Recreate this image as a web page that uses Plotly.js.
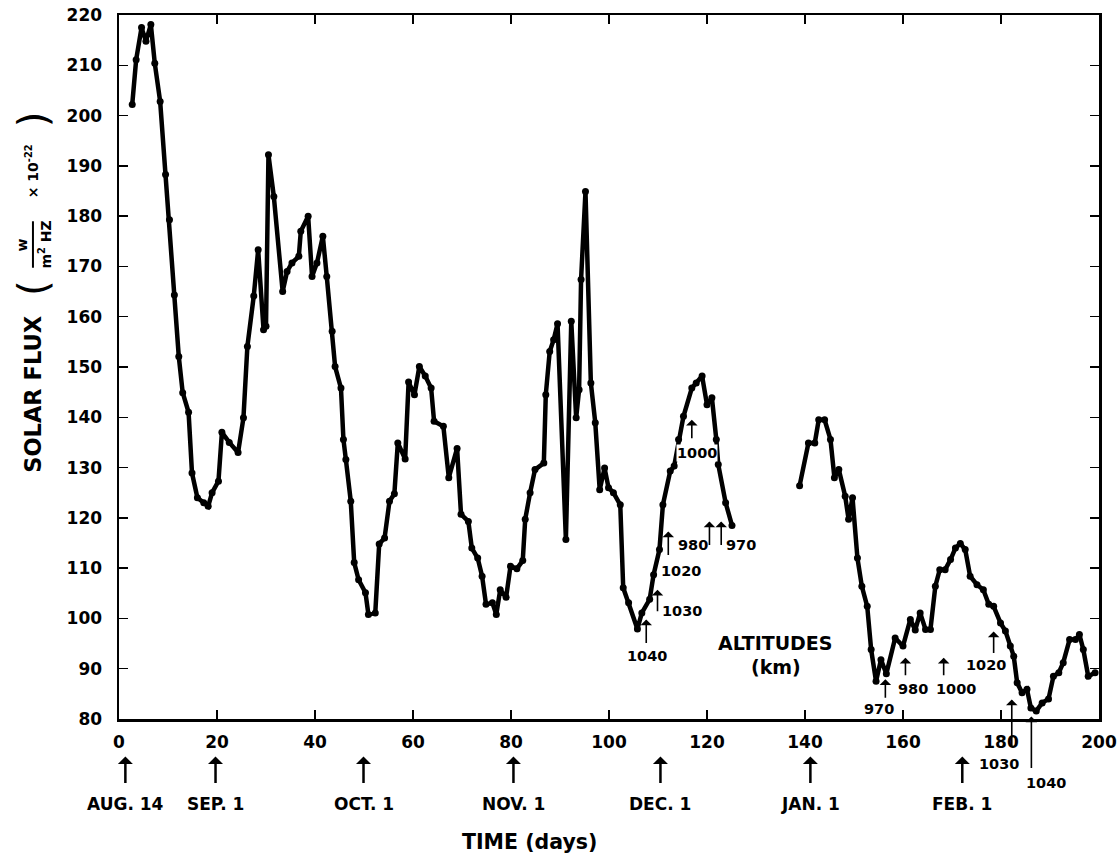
<!DOCTYPE html>
<html>
<head>
<meta charset="utf-8">
<script src="https://cdn.plot.ly/plotly-3.0.1.min.js"></script>
<style>html,body{margin:0;padding:0;background:#fff;}#chart{width:1119px;height:858px;}</style>
</head>
<body>
<div id="chart"></div>
<script>
// ---- data ----
var days1 = [2.7,3.5,4.6,5.5,6.5,7.3,8.4,9.5,10.3,11.3,12.2,13.0,14.2,14.9,16.0,17.3,18.2,19.0,20.3,21.0,22.5,24.3,25.4,26.2,27.5,28.4,29.5,30.0,30.5,31.6,33.4,34.3,35.3,36.7,37.1,38.6,39.4,40.4,41.6,42.4,43.5,44.1,45.3,45.8,46.3,47.3,48.0,48.9,50.3,50.9,52.3,53.1,54.2,55.2,56.2,56.9,58.4,59.1,60.3,61.3,62.5,63.7,64.3,66.2,67.3,69.0,69.8,71.3,72.0,73.2,74.1,74.9,76.2,77.0,77.8,79.0,79.9,81.2,82.4,82.9,83.9,84.9,86.7,87.1,87.9,88.7,89.5,91.2,92.3,93.3,93.9,94.3,95.2,96.3,97.2,98.1,99.1,99.9,100.9,102.3,102.9,104.0,105.8,106.7,108.3,109.1,110.3,111.0,112.5,113.3,114.2,115.2,116.9,117.8,119.0,120.0,121.0,121.9,122.3,123.8,125.1];
var flux1 = [202.2,211.1,217.5,214.8,218.1,210.4,202.8,188.3,179.3,164.3,152.1,144.9,141.0,128.9,124.0,123.0,122.3,125.0,127.3,137.0,135.0,133.0,139.9,154.1,164.1,173.3,157.4,158.1,192.2,183.9,165.0,169.0,170.7,172.0,177.0,180.0,168.0,170.7,176.0,168.0,157.1,150.1,145.8,135.6,131.6,123.3,111.1,107.7,105.1,100.8,101.1,114.8,116.0,123.3,124.8,134.9,131.7,147.0,144.5,150.1,148.2,145.8,139.2,138.2,128.0,133.8,120.7,119.3,114.0,112.0,108.4,102.8,103.1,100.8,105.7,104.2,110.4,109.9,111.5,119.7,125.0,129.6,130.9,144.5,153.1,155.4,158.6,115.7,159.1,139.9,145.5,167.4,184.9,146.8,138.9,125.6,129.9,126.0,125.0,122.6,106.1,103.1,97.9,101.1,103.8,108.7,113.7,122.6,129.3,130.3,135.6,140.2,145.8,146.8,148.2,142.5,143.9,135.6,130.6,123.0,118.5];
var days2 = [138.9,140.7,142.0,142.8,144.0,145.2,146.0,146.9,148.2,148.9,149.7,150.7,151.6,152.7,153.5,154.5,155.5,156.6,158.4,160.0,161.5,162.5,163.5,164.6,165.6,166.6,167.5,168.6,169.7,170.7,171.7,172.7,173.7,175.1,176.4,177.5,178.5,179.9,180.9,181.9,182.6,183.3,184.3,185.3,186.1,187.2,188.4,189.7,190.7,191.8,192.7,194.0,195.2,196.0,196.8,197.8,199.2];
var flux2 = [126.4,134.9,134.9,139.5,139.5,135.6,128.0,129.6,124.3,119.7,124.0,112.0,106.4,102.4,93.8,87.5,91.8,89.0,96.1,94.5,99.8,97.7,101.1,97.8,97.8,106.4,109.7,109.7,111.7,114.0,114.9,113.7,108.4,106.7,105.7,102.8,102.4,99.1,97.5,94.5,92.5,87.2,85.2,85.9,82.2,81.6,83.2,84.0,88.5,89.2,91.2,95.8,95.8,96.8,93.8,88.5,89.2];

var dateLabels = ['AUG. 14','SEP. 1','OCT. 1','NOV. 1','DEC. 1','JAN. 1','FEB. 1'];
var dateDays = [1.3, 19.7, 49.9, 80.5, 110.5, 141.1, 172.1];

var xTicks = [0,20,40,60,80,100,120,140,160,180,200];
var yTicks = [80,90,100,110,120,130,140,150,160,170,180,190,200,210,220];

// altitude markers: arrow heads (day, flux) and labels
var altArrowDays = [107.6,109.9,112.1,116.9,120.5,122.9,156.4,160.5,168.3,178.5];
var altArrowFlux = [99.8,105.7,117.3,139.5,119.3,119.3,87.9,92.2,92.2,97.4];
var altArrowLen  = [25,23,25,20,25,25,20,19,19,23];
var altLabels    = ['1040','1030','980','1020','970','1000','970','980','1000','1020'];
var altLabelDays = [107.8,114.9,117.2,114.6,126.9,118.0,155.2,162.0,170.9,177.0];
var altLabelFlux = [92.5,101.4,114.7,109.4,114.7,132.9,82.0,86.0,86.0,90.7];
// the two altitude marks that run below the axis
var lowArrowDays = [182.2,186.2];
var lowArrowFlux = [83.9,80.5];
var lowArrowLen  = [48,53];
var lowLabels    = ['1030','1040'];
var lowLabelDays = [179.6,189.1];

// ---- build ----
var FONT = '"DejaVu Sans", "Liberation Sans", sans-serif';
var xs = days1.concat([null]).concat(days2);
var ys = flux1.concat([null]).concat(flux2);

var trace = {
  x: xs, y: ys, mode: 'lines+markers', connectgaps: false,
  line: {color: '#000', width: 4.5},
  marker: {color: '#000', size: 7},
  hoverinfo: 'x+y'
};

function txt(x, y, xref, yref, text, size, extra) {
  var a = {x: x, y: y, xref: xref, yref: yref, text: text, showarrow: false,
    xanchor: 'center', yanchor: 'middle',
    font: {family: FONT, size: size, color: '#000', weight: 'bold'}};
  if (extra) { for (var key in extra) { a[key] = extra[key]; } }
  return a;
}
function arrow(x, y, xref, yref, len, width, size) {
  return {x: x, y: y, xref: xref, yref: yref, text: '', showarrow: true,
    ax: 0, ay: len, arrowhead: 1, arrowsize: size, arrowwidth: width, arrowcolor: '#000'};
}

var ann = [];
for (var i = 0; i < dateLabels.length; i++) {
  ann.push(arrow(dateDays[i], -0.0533, 'x', 'paper', 28, 2.5, 1));
  ann.push(txt(dateDays[i], -0.1214, 'x', 'paper', dateLabels[i], 17));
}
for (var j = 0; j < altArrowDays.length; j++) {
  ann.push(arrow(altArrowDays[j], altArrowFlux[j], 'x', 'y', altArrowLen[j], 1.6, 1.2));
}
for (var k = 0; k < altLabels.length; k++) {
  var ex = (altLabels[k] === '1000' && k === 5) ? {bgcolor: '#fff', borderpad: 0} : null;
  ann.push(txt(altLabelDays[k], altLabelFlux[k], 'x', 'y', altLabels[k], 14.5, ex));
}
for (var m = 0; m < lowArrowDays.length; m++) {
  ann.push(arrow(lowArrowDays[m], lowArrowFlux[m], 'x', 'y', lowArrowLen[m], 1.6, 1.2));
  ann.push(txt(lowLabelDays[m], (m === 0 ? -0.0646 : -0.0906), 'x', 'paper', lowLabels[m], 14.5));
}
ann.push(txt(133.9, 95.1, 'x', 'y', 'ALTITUDES', 19));
ann.push(txt(134.1, 90.4, 'x', 'y', '(km)', 19));
// x title
ann.push(txt(0.419, -0.1754, 'paper', 'paper', 'TIME (days)', 20.5));
// y title pieces (rotated)
ann.push(txt(-0.0878, 0.462, 'paper', 'paper', 'SOLAR FLUX', 22.5, {textangle: -90}));
ann.push(txt(-0.0878, 0.612, 'paper', 'paper', '(', 40, {textangle: -90, font: {family: '"DejaVu Sans", sans-serif', size: 40, color: '#000', weight: 'normal'}}));
ann.push(txt(-0.099, 0.674, 'paper', 'paper', 'w', 14, {textangle: -90}));
ann.push(txt(-0.0755, 0.674, 'paper', 'paper', 'm<sup>2</sup> HZ', 14, {textangle: -90}));
ann.push(txt(-0.0888, 0.778, 'paper', 'paper', '× 10<sup>-22</sup>', 14, {textangle: -90}));
ann.push(txt(-0.0878, 0.852, 'paper', 'paper', ')', 40, {textangle: -90, font: {family: '"DejaVu Sans", sans-serif', size: 40, color: '#000', weight: 'normal'}}));

var shapes = [{type: 'line', xref: 'paper', yref: 'paper', x0: -0.0878, x1: -0.0878, y0: 0.641, y1: 0.707,
  line: {color: '#000', width: 2}}];

var axisCommon = {
  showgrid: false, zeroline: false, showline: true, linecolor: '#000', linewidth: 2.5,
  mirror: 'ticks', ticks: 'inside', ticklen: 9, tickwidth: 1.5, tickcolor: '#000',
  tickfont: {family: FONT, size: 17, color: '#000', weight: 'bold'}
};

var layout = {
  width: 1119, height: 858,
  margin: {l: 119, r: 20, t: 15, b: 139},
  paper_bgcolor: '#fff', plot_bgcolor: '#fff',
  showlegend: false,
  xaxis: Object.assign({}, axisCommon, {range: [0, 200], tickvals: xTicks, ticklabelstandoff: 6}),
  yaxis: Object.assign({}, axisCommon, {range: [80, 220], tickvals: yTicks, ticklabelstandoff: 11}),
  annotations: ann,
  shapes: shapes
};

Plotly.newPlot('chart', [trace], layout, {displayModeBar: false, staticPlot: true});
</script>
</body>
</html>
